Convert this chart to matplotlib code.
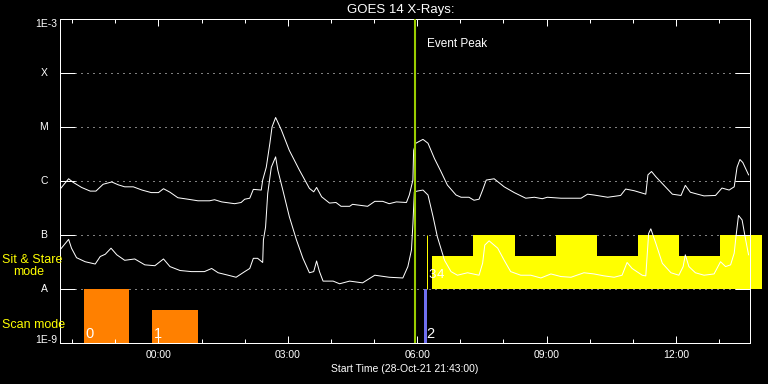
import matplotlib
import matplotlib.pyplot as plt
import matplotlib.ticker as ticker
matplotlib.use('Agg')

plt.rcParams['font.family'] = ['Liberation Sans', 'DejaVu Sans']

start_label = "28-Oct-21 21:43:00"
start_of_day = 21 * 60 + 43     # start time, minutes after midnight
span = 960                      # 16 hours on the plot

# GOES 14 long channel (1-8 A), minutes after start / flux W m^-2
long_minutes = [1, 12, 18, 30, 42, 50, 60, 72, 81, 90,
                102, 114, 127, 137, 144, 153, 164, 178, 192, 208,
                215, 225, 243, 252, 257, 264, 269, 280, 282, 287,
                292, 295, 300, 308, 319, 333, 347, 353, 357, 364,
                375, 384, 391, 403, 407, 428, 438, 449, 458, 468,
                482, 486, 491, 492, 495, 505, 512, 521, 530, 539,
                551, 558, 569, 576, 583, 588, 593, 604, 618, 632,
                648, 660, 671, 678, 697, 725, 734, 743, 762, 780,
                787, 799, 815, 818, 823, 829, 840, 852, 864, 870,
                877, 887, 896, 912, 921, 931, 938, 942, 946, 950,
                958]
long_flux = [7.3e-7, 1.1e-6, 9.5e-7, 7.6e-7, 6.5e-7, 6.5e-7, 8.7e-7, 9.6e-7, 8.5e-7, 7.8e-7,
             7.8e-7, 6.8e-7, 6.1e-7, 6.1e-7, 7.2e-7, 6.2e-7, 4.9e-7, 4.6e-7, 4.3e-7, 4.3e-7,
             4.5e-7, 4.1e-7, 3.8e-7, 4.0e-7, 4.6e-7, 4.8e-7, 7.0e-7, 6.8e-7, 1.04e-6, 1.8e-6,
             5.0e-6, 1.0e-5, 1.5e-5, 8.8e-6, 3.7e-6, 1.6e-6, 7.3e-7, 6.3e-7, 7.6e-7, 5.1e-7,
             3.9e-7, 4.0e-7, 3.4e-7, 3.4e-7, 3.7e-7, 3.4e-7, 4.2e-7, 4.2e-7, 3.8e-7, 4.1e-7,
             4.0e-7, 5.5e-7, 1.04e-6, 3.7e-6, 5.0e-6, 5.9e-6, 5.0e-6, 2.6e-6, 1.5e-6, 8.4e-7,
             5.5e-7, 5.0e-7, 5.0e-7, 4.4e-7, 4.6e-7, 6.8e-7, 1.04e-6, 1.1e-6, 7.8e-7, 6.1e-7,
             4.8e-7, 5.0e-7, 4.7e-7, 5.0e-7, 4.8e-7, 4.8e-7, 5.7e-7, 5.5e-7, 5.0e-7, 5.4e-7,
             7.1e-7, 6.6e-7, 5.7e-7, 1.3e-6, 1.5e-6, 1.2e-6, 8.4e-7, 5.7e-7, 5.4e-7, 8.3e-7,
             6.2e-7, 5.7e-7, 5.3e-7, 5.4e-7, 7.4e-7, 6.8e-7, 7.8e-7, 1.8e-6, 2.5e-6, 2.2e-6,
             1.3e-6]

# short channel (0.5-4 A)
short_minutes = [1, 12, 16, 23, 35, 49, 56, 63, 71, 79,
                 90, 104, 118, 132, 144, 153, 167, 183, 201, 211,
                 220, 234, 245, 257, 264, 269, 275, 282, 283, 286,
                 289, 294, 300, 303, 310, 319, 329, 338, 347, 353,
                 357, 361, 366, 380, 389, 403, 421, 438, 458, 477,
                 484, 489, 491, 493, 497, 505, 512, 519, 525, 535,
                 544, 553, 567, 583, 588, 591, 597, 609, 618, 627,
                 641, 655, 669, 683, 697, 711, 729, 743, 757, 771,
                 782, 789, 796, 810, 815, 819, 822, 829, 838, 850,
                 861, 867, 870, 875, 884, 896, 910, 919, 926, 933,
                 938, 941, 944, 949, 954, 958]
short_flux = [5.5e-8, 8.3e-8, 5.7e-8, 3.8e-8, 3.2e-8, 2.9e-8, 4.0e-8, 4.4e-8, 5.7e-8, 4.3e-8,
              3.4e-8, 3.6e-8, 2.8e-8, 2.7e-8, 3.6e-8, 2.6e-8, 2.2e-8, 2.1e-8, 2.1e-8, 2.4e-8,
              2.0e-8, 1.8e-8, 1.65e-8, 2.1e-8, 2.4e-8, 3.7e-8, 3.7e-8, 3.1e-8, 8.1e-8, 1.4e-7,
              5.9e-7, 1.8e-6, 2.8e-6, 1.6e-6, 6.8e-7, 2.2e-7, 8.1e-8, 3.7e-8, 2.0e-8, 2.1e-8,
              3.3e-8, 2.1e-8, 1.4e-8, 1.4e-8, 1.25e-8, 1.4e-8, 1.3e-8, 1.8e-8, 1.65e-8, 1.6e-8,
              2.6e-8, 5.3e-8, 1.6e-7, 6.3e-7, 6.5e-7, 6.8e-7, 5.5e-7, 2.2e-7, 9.3e-8, 3.4e-8,
              2.1e-8, 1.8e-8, 2.0e-8, 1.8e-8, 3.0e-8, 6.5e-8, 7.8e-8, 5.7e-8, 3.4e-8, 2.1e-8,
              1.8e-8, 1.8e-8, 1.6e-8, 1.9e-8, 1.7e-8, 1.65e-8, 2.0e-8, 1.9e-8, 1.75e-8, 1.65e-8,
              1.8e-8, 3.1e-8, 2.4e-8, 1.8e-8, 1.75e-8, 1.07e-7, 1.3e-7, 7.0e-8, 3.0e-8, 2.0e-8,
              1.8e-8, 2.6e-8, 4.3e-8, 2.6e-8, 2.0e-8, 1.8e-8, 1.9e-8, 3.2e-8, 2.6e-8, 2.8e-8,
              4.6e-8, 1.07e-7, 2.3e-7, 1.9e-7, 8.1e-8, 4.3e-8]

class_labels = ["A", "B", "C", "M", "X"]
class_levels = [1e-8, 1e-7, 1e-6, 1e-5, 1e-4]

event_peak = 494

# scan mode observations
scan_labels = ["0", "1", "2"]
scan_start = [33, 128, 507]
scan_end = [96, 192, 511]
scan_top = [1e-8, 4.1e-9, 1e-8]
scan_colors = ["#ff8000", "#ff8000", "#7070f0"]

# sit & stare observations
stare3_time = 511
stare_edges = [518, 575, 633, 690, 747, 804, 861, 918, 976]
stare_tops = [4.1e-8, 1e-7, 4.1e-8, 1e-7, 4.1e-8, 1e-7, 4.1e-8, 1e-7]


def clock(m, pos=None):
    t = int(round(start_of_day + m)) % 1440
    return '{:02d}:{:02d}'.format(t // 60, t % 60)


def main():
    W, H = 768, 384
    fig = plt.figure(figsize=(W / 100, H / 100), dpi=100, facecolor='black')
    ax = fig.add_axes([60 / W, 41 / H, 690 / W, 324 / H])
    ax.set_facecolor('black')
    ax.set_yscale('log')
    ax.set_ylim(1e-9, 1e-3)
    ax.set_xlim(0, span)

    lw = 0.72
    for s in ax.spines.values():
        s.set_color('white')
        s.set_linewidth(lw)

    # time axis: hour minor ticks, 3-hour major ticks
    first_hour = 60 - start_of_day % 60
    first_major = 180 - start_of_day % 180
    ax.xaxis.set_major_locator(ticker.FixedLocator(range(first_major, span, 180)))
    ax.xaxis.set_minor_locator(ticker.FixedLocator(range(first_hour, span, 60)))
    ax.xaxis.set_major_formatter(ticker.FuncFormatter(clock))
    ax.tick_params(axis='x', which='both', direction='in', top=True, bottom=True,
                   colors='white', width=lw, labelsize=7.5, pad=5)
    ax.tick_params(axis='x', which='major', length=4.7)
    ax.tick_params(axis='x', which='minor', length=2.7)

    ax.yaxis.set_major_locator(ticker.FixedLocator(class_levels))
    ax.yaxis.set_minor_locator(ticker.NullLocator())
    ax.tick_params(axis='y', which='major', direction='in', left=True, right=True,
                   length=10.8, width=lw, colors='white', labelleft=False)

    for f in class_levels:
        ax.axhline(f, xmin=15 / 690, xmax=1 - 14 / 690, color='white', lw=lw,
                   linestyle=(0, (1, 5)), zorder=0.5)

    ytr = ax.get_yaxis_transform()
    for lab, f in zip(class_labels, class_levels):
        ax.text(-16 / 690, f, lab, transform=ytr, ha='center', va='center',
                color='white', fontsize=7.5)
    ax.text(-3 / 690, 1e-3, "1E-3", transform=ytr, ha='right', va='top',
            color='white', fontsize=7.5)
    ax.text(-3 / 690, 1e-9, "1E-9", transform=ytr, ha='right', va='baseline',
            color='white', fontsize=7.5)

    # observation blocks
    xtr = ax.get_xaxis_transform()
    for lab, s, e, top, c in zip(scan_labels, scan_start, scan_end, scan_top, scan_colors):
        ax.bar(s, top - 1e-9, width=e - s, bottom=1e-9, align='edge', color=c,
               linewidth=0, zorder=1)
        ax.text(s + 2, 0.015, lab, transform=xtr, color='white', fontsize=10.5,
                va='baseline', ha='left', zorder=4)
    ax.vlines(stare3_time, 1e-8, 1e-7, color='#ffff00', lw=lw, zorder=1)
    ax.stairs(stare_tops, stare_edges, baseline=1e-8, fill=True, color='#ffff00',
              clip_on=False, zorder=1)
    ax.text(stare3_time + 1, 0.2, "3", transform=xtr, color='white', fontsize=9.5,
            va='baseline', zorder=4)
    ax.text(stare_edges[0] + 6, 0.2, "4", transform=xtr, color='white', fontsize=9.5,
            va='baseline', zorder=4)

    ax.plot(long_minutes, long_flux, color='white', lw=lw, zorder=3)
    ax.plot(short_minutes, short_flux, color='white', lw=lw, zorder=3)

    ax.axvline(event_peak, color='#99cc00', lw=1.5, zorder=3.5)
    ax.text(event_peak + 16, 0.9136, "Event Peak", transform=xtr, color='white',
            fontsize=8.5, va='baseline')

    fig.text(401 / W, (H - 13) / H, "GOES 14 X-Rays:", color='white', fontsize=9.5,
             ha='center', va='baseline')
    fig.text(405 / W, (H - 372) / H, "Start Time (" + start_label + ")", color='white',
             fontsize=7.5, ha='center', va='baseline')
    fig.text(2 / W, (H - 263) / H, "Sit & Stare", color='#ffff00', fontsize=9,
             va='baseline')
    fig.text(13 / W, (H - 275) / H, "mode", color='#ffff00', fontsize=9,
             va='baseline')
    fig.text(2 / W, (H - 328) / H, "Scan mode", color='#ffff00', fontsize=9,
             va='baseline')

    plt.savefig("out.png", dpi=100, facecolor='black')


if __name__ == "__main__":
    main()
